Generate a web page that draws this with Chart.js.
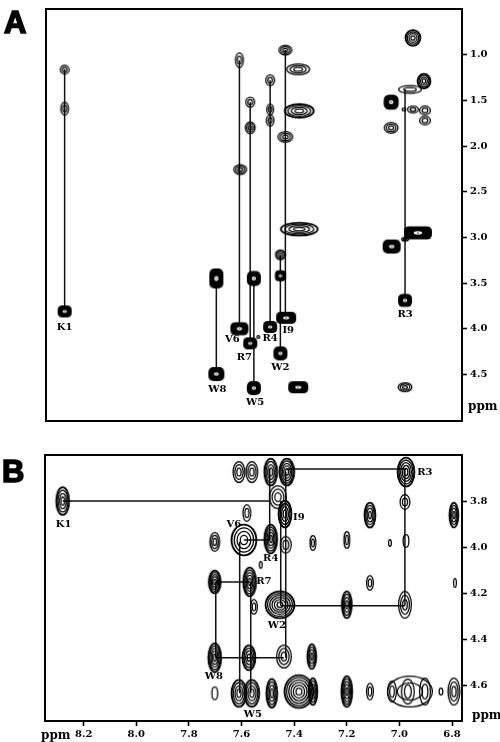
<!DOCTYPE html>
<html><head><meta charset="utf-8">
<script src="https://cdn.jsdelivr.net/npm/chart.js@4/dist/chart.umd.min.js"></script>
<style>
html,body{margin:0;padding:0;background:#fff;width:500px;height:742px;overflow:hidden}
canvas{position:absolute;left:0}
.t{position:absolute;color:#000;white-space:nowrap;line-height:1}
.p{font:700 31px "Liberation Sans",Arial,sans-serif;-webkit-text-stroke:1.6px #000}
.u{font:700 12px "DejaVu Serif",serif}
</style></head><body>
<canvas id="a" style="top:0" width="500" height="432"></canvas>
<canvas id="b" style="top:444px" width="500" height="298"></canvas>
<div class="t p" style="left:4px;top:5px">A</div>
<div class="t p" style="left:2px;top:454px">B</div>
<div class="t u" style="left:468px;top:399px">ppm</div>
<div class="t u" style="left:472px;top:708px">ppm</div>
<div class="t u" style="left:41px;top:728px">ppm</div>
<script>
// Panel A peaks (ppm)
const aPeakX=[8.276,8.276,8.276,7.610,7.607,7.610,7.698,7.698,7.569,7.569,7.569,7.555,7.555,7.493,7.493,7.493,7.493,7.454,7.454,7.454,7.435,7.435,7.432,7.386,7.382,7.382,7.386,6.979,6.979,6.949,7.032,7.032,6.907,6.960,6.949,6.903,6.903,6.983,7.030,6.930,6.979,7.538];
const aPeakY=[1.163,1.59,3.81,1.06,2.257,4.0,3.45,4.496,1.52,1.80,4.16,3.45,4.65,1.28,1.60,1.72,3.98,3.19,3.42,4.27,0.95,1.90,3.88,1.16,1.615,2.91,4.64,3.69,4.64,0.816,1.52,1.80,1.29,1.38,1.60,1.61,1.72,1.60,3.10,2.95,3.02,4.09];
const aPeakRx=[5,4.5,7,4.5,7,9,7,8,5,5.5,7,7,7,5,4,4.5,7,5.5,5.5,7,7,8,10,12,15,19,10,7,7.5,8,7.5,7.5,7,12,6,6,6,2.5,9,14,4,2];
const aPeakRy=[5,7,6,8,5.5,6.5,10,7,5.5,6.5,6,7.5,7,6,6,6,6,5.5,5.5,7,5.5,6,6,6,7.5,7,6,6.5,5,8.5,7.5,6,8,4.5,4,5,5,2,7,6.5,2.5,2];
const aPeakRings=[2,2,0,2,3,0,0,0,2,3,0,0,0,2,2,2,0,3,0,0,3,3,0,3,4,4,0,0,3,4,0,3,4,2,2,2,2,1,0,0,2,1];
// Panel B peaks (ppm)
const bPeakX=[8.280,7.610,7.561,7.489,7.428,6.975,7.462,7.435,7.580,7.591,7.702,7.489,7.432,7.329,7.200,7.036,6.975,7.112,6.979,6.793,7.527,7.112,6.789,7.702,7.569,7.553,7.454,7.200,6.979,7.702,7.572,7.439,7.333,7.702,7.610,7.561,7.485,7.382,7.329,7.200,7.112,7.028,6.968,6.903,6.842,6.793,6.960];
const bPeakY=[3.80,3.674,3.674,3.674,3.674,3.674,3.783,3.856,3.852,3.969,3.977,3.965,3.99,3.982,3.969,3.982,3.973,3.861,3.804,3.861,4.077,4.155,4.155,4.151,4.151,4.259,4.25,4.25,4.25,4.48,4.48,4.475,4.475,4.635,4.635,4.635,4.635,4.627,4.627,4.627,4.627,4.627,4.627,4.627,4.627,4.627,4.627];
const bPeakRx=[7,6.5,6.5,7,8,9,9,7,4.5,13,5.5,7,6,3.5,3.5,2,3.5,6,5.5,5,2,4,2,6.5,7,4,15,5.5,7,7,7,8,5,3.5,8,8,6,15,5,6,4,5,7,6,2.5,6.5,23];
const bPeakRy=[14.5,11,11,14,14,15,12,14,9,16,10,15,9,8,9,4,7,13,8,13,4,8,5,12,15,8,14,14,14,15,13,12,13,7,14,14,15,17,14,16,9,11,13,14,4,14,16];
const bPeakRings=[4,3,3,4,5,5,3,4,2,4,3,5,2,2,2,1,1,4,2,4,1,2,1,5,5,2,6,4,3,5,4,3,4,1,4,4,4,6,4,5,2,2,2,2,1,3,2];
// Connecting lines [x1,y1,x2,y2] (ppm)
const aLines=[[8.276,1.16,8.276,3.81],[7.610,1.06,7.610,4.0],[7.569,1.52,7.569,4.16],[7.555,3.45,7.555,4.65],[7.493,1.28,7.493,3.98],[7.454,3.19,7.454,4.27],[7.435,0.95,7.435,3.88],[6.979,1.38,6.979,3.69],[7.698,3.45,7.698,4.5]];
const bLines=[[8.28,3.80,7.489,3.80],[7.428,3.661,6.975,3.661],[6.979,3.661,6.979,4.255],[7.451,4.255,6.979,4.255],[7.451,3.80,7.451,4.255],[7.432,3.674,7.432,4.48],[7.493,3.661,7.493,3.969],[7.591,3.969,7.493,3.969],[7.607,3.977,7.607,4.635],[7.698,4.151,7.569,4.151],[7.698,4.151,7.698,4.48],[7.698,4.48,7.439,4.48],[7.565,4.151,7.565,4.635]];
// Residue labels
const aLabels=["K1","V6","R7","W8","W5","R4","I9","W2","R3"];
const aLabelX=[8.276,7.637,7.591,7.694,7.550,7.493,7.424,7.454,6.979];
const aLabelY=[3.98,4.12,4.315,4.66,4.81,4.11,4.02,4.42,3.84];
const bLabels=["K1","V6","I9","R3","R4","R7","W2","W8","W5"];
const bLabelX=[8.276,7.629,7.382,6.903,7.489,7.515,7.466,7.705,7.557];
const bLabelY=[3.90,3.90,3.869,3.674,4.051,4.151,4.341,4.562,4.726];
// Tick labels
const aYTicks=[1.0,1.5,2.0,2.5,3.0,3.5,4.0,4.5];
const bYTicks=[3.8,4.0,4.2,4.4,4.6];
const bXTicks=[8.2,8.0,7.8,7.6,7.4,7.2,7.0,6.8];
const xRange=[6.762,8.347];
const aYRange=[0.5,5.01];
const bYRange=[3.60,4.755];

function steps(lo,hi,st){const o=[];for(let k=Math.ceil(lo/st);k*st<=hi;k++)o.push({value:+(k*st).toFixed(2)});return o;}
function ringImg(rx,ry,n){
  const c=document.createElement('canvas');c.width=2*Math.ceil(rx+2);c.height=2*Math.ceil(ry+2);
  const g=c.getContext('2d'),cx=c.width/2,cy=c.height/2;
  g.strokeStyle='#000';g.fillStyle='#000';
  if(n===0){
    const r=Math.min(rx,ry)*0.72;
    g.beginPath();g.roundRect(cx-rx,cy-ry,2*rx,2*ry,r);g.fill();
    g.fillStyle='#fff';g.beginPath();g.ellipse(cx,cy,Math.max(rx*.3,1.7),Math.max(ry*.26,1.5),0,0,7);g.fill();
    g.fillStyle='#000';g.beginPath();g.ellipse(cx,cy,.7,.7,0,0,7);g.fill();
  }else{
    for(let i=0;i<n;i++){
      const f=Math.pow(1-i/n,0.8);
      g.lineWidth=(i===0&&n>=4)?1.9:1.25;
      g.beginPath();g.ellipse(cx,cy,Math.max(rx*f-.6,.6),Math.max(ry*f-.6,.6),0,0,7);g.stroke();
    }
  }
  return c;
}
function lineSets(lines){return lines.map(l=>({type:'scatter',showLine:true,data:[{x:l[0],y:l[1]},{x:l[2],y:l[3]}],borderColor:'#111',borderWidth:1.5,pointRadius:0,order:2,clip:false}));}
function peakSet(xs,ys,rxs,rys,rings){
  const imgs=xs.map((_,i)=>ringImg(rxs[i],rys[i],rings[i]));
  return {type:'scatter',data:xs.map((x,i)=>({x,y:ys[i]})),pointStyle:c=>imgs[c.dataIndex],pointRadius:2,order:1,showLine:false};
}
const frame={id:'frame',afterDraw(c){
  const a=c.chartArea,g=c.ctx;g.save();g.strokeStyle='#000';g.lineWidth=2;g.strokeRect(a.left,a.top,a.right-a.left,a.bottom-a.top);g.restore();
  const o=c.options.plugins.residue,xs=c.scales.x,ys=c.scales.y;
  g.save();g.font='700 10px "DejaVu Serif",serif';g.fillStyle='#000';g.textAlign='center';g.textBaseline='middle';
  o.text.forEach((t,i)=>g.fillText(t,xs.getPixelForValue(o.x[i]),ys.getPixelForValue(o.y[i])));g.restore();
}};
Chart.register({id:'residue'});
const tickFont={family:'"DejaVu Serif",serif',size:10,weight:'700'};
function build(id,lines,peak,xTicks,yTicks,yMinorStep,yRange,labels,padding,xH){
  const xMajor=xTicks?{type:'linear',reverse:true,min:xRange[0],max:xRange[1],position:'bottom',border:{display:false},
      grid:{drawTicks:true,tickLength:5,tickColor:'#000',tickWidth:1.6,display:true,drawOnChartArea:false},
      ticks:{font:tickFont,color:'#000',autoSkip:false,maxRotation:0,padding:2,callback:v=>v.toFixed(1)},
      afterBuildTicks:s=>{s.ticks=xTicks.map(v=>({value:v}));},afterFit:s=>{s.height=xH;}}
    :{type:'linear',reverse:true,min:xRange[0],max:xRange[1],display:false};
  const scales={x:xMajor,
    y:{type:'linear',reverse:true,min:yRange[0],max:yRange[1],position:'right',border:{display:false},
      grid:{drawOnChartArea:false,tickLength:5,tickColor:'#000',tickWidth:1.6},
      ticks:{font:tickFont,color:'#000',autoSkip:false,padding:3,callback:v=>v.toFixed(1)},
      afterBuildTicks:s=>{s.ticks=yTicks.map(v=>({value:v}));},afterFit:s=>{s.width=38;}},
    yMinor:{type:'linear',reverse:true,min:yRange[0],max:yRange[1],position:'right',border:{display:false},
      grid:{drawOnChartArea:false,tickLength:3,tickColor:'#222',tickWidth:1.4},
      ticks:{display:false,autoSkip:false},
      afterBuildTicks:s=>{s.ticks=steps(yRange[0]+.01,yRange[1],yMinorStep);},afterFit:s=>{s.width=0;}}};
  if(xTicks){
    scales.xMinor={type:'linear',reverse:true,min:xRange[0],max:xRange[1],position:'bottom',border:{display:false},
      grid:{drawOnChartArea:false,tickLength:3,tickColor:'#222',tickWidth:1.4},
      ticks:{display:false,autoSkip:false},
      afterBuildTicks:s=>{s.ticks=steps(xRange[0],xRange[1],0.1);},afterFit:s=>{s.height=0;}};
  }
  const yMinorSet={type:'scatter',data:[],yAxisID:'yMinor'};
  const sets=[peak,...lineSets(lines),yMinorSet];
  if(xTicks)sets.push({type:'scatter',data:[],xAxisID:'xMinor'});
  new Chart(document.getElementById(id),{type:'scatter',data:{datasets:sets},plugins:[frame],
    options:{responsive:false,animation:false,events:[],layout:{padding},
      plugins:{legend:{display:false},tooltip:{enabled:false},residue:labels},scales}});
}
build('a',aLines,peakSet(aPeakX,aPeakY,aPeakRx,aPeakRy,aPeakRings),null,aYTicks,0.1,aYRange,
  {text:aLabels,x:aLabelX,y:aLabelY},{left:46,top:5,right:0,bottom:11},0);
build('b',bLines,peakSet(bPeakX,bPeakY,bPeakRx,bPeakRy,bPeakRings),bXTicks,bYTicks,0.1,bYRange,
  {text:bLabels,x:bLabelX,y:bLabelY},{left:45,top:11,right:0,bottom:0},21);
</script>
</body></html>
